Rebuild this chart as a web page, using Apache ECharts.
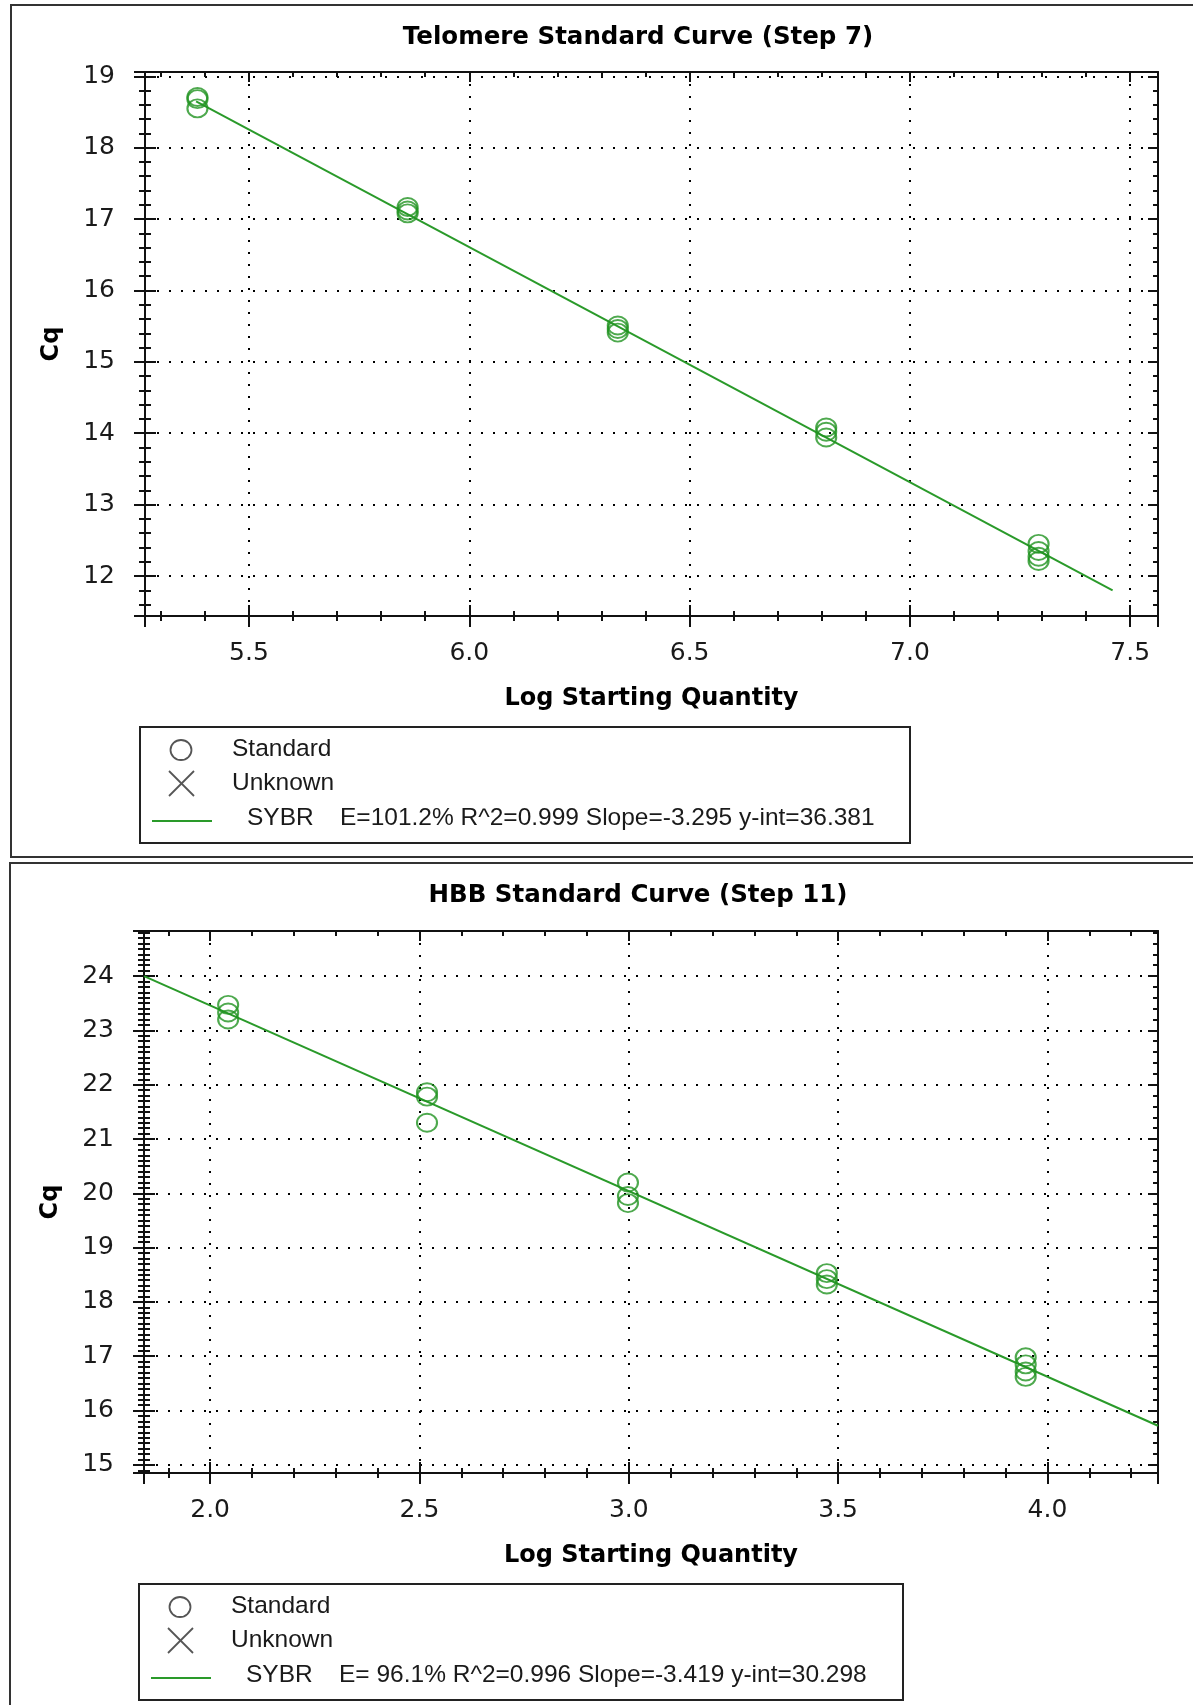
<!DOCTYPE html>
<html>
<head>
<meta charset="utf-8">
<script src="https://cdn.jsdelivr.net/npm/echarts@6/dist/echarts.min.js"></script>
<style>
html,body{margin:0;padding:0;background:#fff;}
#c{width:1193px;height:1705px;}
</style>
</head>
<body>
<div id="c"></div>
<script>
// ---------- data ----------
const titles = ['Telomere Standard Curve (Step 7)', 'HBB Standard Curve (Step 11)'];
const xAxisName = 'Log Starting Quantity';
const yAxisName = 'Cq';
const legendLabels = ['Standard', 'Unknown', 'SYBR'];
const legendStats = [
  'E=101.2% R^2=0.999 Slope=-3.295 y-int=36.381',
  'E= 96.1% R^2=0.996 Slope=-3.419 y-int=30.298'
];

// Telomere standards: log starting quantity and replicate Cq values
const teloLogQty = [5.383, 5.860, 6.337, 6.810, 7.292];
const teloCq = [
  [18.71, 18.68, 18.55],
  [17.17, 17.12, 17.08],
  [15.51, 15.46, 15.41],
  [14.08, 14.02, 13.94],
  [12.45, 12.35, 12.27, 12.21]
];
const teloFitX = [5.38, 7.46];
const teloFitCq = [18.65, 11.80];

// HBB standards
const hbbLogQty = [2.043, 2.518, 2.998, 3.473, 3.948];
const hbbCq = [
  [23.47, 23.33, 23.20],
  [21.86, 21.78, 21.30],
  [20.20, 19.95, 19.82],
  [18.53, 18.42, 18.32],
  [16.98, 16.85, 16.72, 16.62]
];
const hbbFitX = [1.842, 4.264];
const hbbFitCq = [24.00, 15.72];

// axis extents seen in the reference
const teloXExtent = [5.264, 7.563];
const teloYExtent = [11.44, 19.06];
const hbbXExtent = [1.842, 4.264];
const hbbYExtent = [14.85, 24.83];

// ---------- styling ----------
const GREEN = '#2a9a2a';
const DOT_GREEN = '#229322';
const INK = '#111';
const FONT = 'DejaVu Sans';
const LFONT = 'Liberation Sans';

function pairs(xs, groups) {
  const out = [];
  groups.forEach((g, i) => g.forEach(v => out.push([xs[i], v])));
  return out;
}
function line(xs, ys) { return xs.map((x, i) => [x, ys[i]]); }

function makeX(grid, ext) {
  const base = {type: 'value', gridIndex: grid, min: ext[0], max: ext[1], splitNumber: 5};
  const tickLs = {color: INK, width: 2};
  return [
    Object.assign({}, base, {
      position: 'bottom',
      name: xAxisName, nameLocation: 'middle', nameGap: 71,
      nameTextStyle: {fontFamily: FONT, fontWeight: 'bold', fontSize: 24, color: '#000'},
      axisLine: {show: true, onZero: false, lineStyle: {color: INK, width: 2}},
      axisTick: {show: true, inside: false, length: 11, lineStyle: tickLs},
      minorTick: {show: true, splitNumber: 5, length: 5, lineStyle: tickLs},
      axisLabel: {show: true, margin: 25, fontFamily: FONT, fontSize: 25, color: '#1a1a1a',
        showMinLabel: false, showMaxLabel: false, formatter: v => v.toFixed(1)},
      splitLine: {show: true, lineStyle: {color: '#000', width: 2, type: [2, 10]}}
    }),
    Object.assign({}, base, {
      position: 'bottom',
      axisLine: {show: false, onZero: false},
      axisTick: {show: true, inside: true, length: 11, lineStyle: tickLs},
      minorTick: {show: true, splitNumber: 5, length: 5, lineStyle: tickLs},
      axisLabel: {show: false}, splitLine: {show: false}
    }),
    Object.assign({}, base, {
      position: 'top',
      axisLine: {show: true, onZero: false, lineStyle: {color: INK, width: 2}},
      axisTick: {show: true, inside: true, length: 10, lineStyle: tickLs},
      minorTick: {show: true, splitNumber: 5, length: 5, lineStyle: tickLs},
      axisLabel: {show: false}, splitLine: {show: false}
    })
  ];
}

function makeY(grid, ext, splitN, minorLeft) {
  const base = {type: 'value', gridIndex: grid, min: ext[0], max: ext[1], splitNumber: splitN};
  const tickLs = {color: INK, width: 2};
  return [
    Object.assign({}, base, {
      position: 'left',
      name: yAxisName, nameLocation: 'middle', nameGap: 81,
      nameTextStyle: {fontFamily: FONT, fontWeight: 'bold', fontSize: 24, color: '#000'},
      axisLine: {show: true, onZero: false, lineStyle: {color: INK, width: 2}},
      axisTick: {show: true, inside: false, length: 11, lineStyle: tickLs},
      minorTick: {show: true, splitNumber: minorLeft, length: 6, lineStyle: tickLs},
      axisLabel: {show: true, margin: 30, fontFamily: FONT, fontSize: 25, color: '#1a1a1a',
        showMinLabel: false, showMaxLabel: false, formatter: v => String(Math.round(v))},
      splitLine: {show: true, lineStyle: {color: '#000', width: 2, type: [2, 10]}}
    }),
    Object.assign({}, base, {
      position: 'left',
      axisLine: {show: false, onZero: false},
      axisTick: {show: true, inside: true, length: 11, lineStyle: tickLs},
      minorTick: {show: true, splitNumber: minorLeft, length: 6, lineStyle: tickLs},
      axisLabel: {show: false}, splitLine: {show: false}
    }),
    Object.assign({}, base, {
      position: 'right',
      axisLine: {show: true, onZero: false, lineStyle: {color: INK, width: 2}},
      axisTick: {show: true, inside: true, length: 10, lineStyle: tickLs},
      minorTick: {show: true, splitNumber: 5, length: 5, lineStyle: tickLs},
      axisLabel: {show: false}, splitLine: {show: false}
    })
  ];
}

function legendGraphics(box, stats) {
  // box: [x, y, w, h]
  const [bx, by, bw, bh] = box;
  const r1 = by + 22, r2 = by + 56, r3 = by + 91;
  const txt = (x, y, t) => ({type: 'text', x: x, y: y, silent: true,
    style: {text: t, fontFamily: LFONT, fontSize: 24.5, fill: '#1a1a1a', align: 'left', verticalAlign: 'middle'}});
  return [
    {type: 'rect', shape: {x: bx, y: by, width: bw, height: bh}, silent: true,
     style: {fill: 'none', stroke: '#222', lineWidth: 2}},
    {type: 'ellipse', shape: {cx: bx + 41, cy: r1 + 1, rx: 10.5, ry: 10}, silent: true,
     style: {fill: 'none', stroke: '#555', lineWidth: 1.8}},
    txt(bx + 92, r1, legendLabels[0]),
    {type: 'line', shape: {x1: bx + 29, y1: r2 - 12, x2: bx + 54, y2: r2 + 13}, silent: true,
     style: {stroke: '#555', lineWidth: 1.8}},
    {type: 'line', shape: {x1: bx + 29, y1: r2 + 13, x2: bx + 54, y2: r2 - 12}, silent: true,
     style: {stroke: '#555', lineWidth: 1.8}},
    txt(bx + 92, r2, legendLabels[1]),
    {type: 'line', shape: {x1: bx + 12, y1: r3 + 3, x2: bx + 72, y2: r3 + 3}, silent: true,
     style: {stroke: GREEN, lineWidth: 2}},
    txt(bx + 107, r3, legendLabels[2]),
    txt(bx + 200, r3, stats)
  ];
}

const grids = [
  {left: 145, top: 72, width: 1013, height: 544},
  {left: 144, top: 931, width: 1014, height: 542}
];

const xAxes = makeX(0, teloXExtent).concat(makeX(1, hbbXExtent));
const yAxes = makeY(0, teloYExtent, 7, 5).concat(makeY(1, hbbYExtent, 10, 10));

const scatterStyle = {color: 'rgba(0,0,0,0)', borderColor: DOT_GREEN, borderWidth: 2};

const option = {
  animation: false,
  backgroundColor: '#fff',
  grid: grids,
  xAxis: xAxes,
  yAxis: yAxes,
  series: [
    {type: 'line', name: legendLabels[2], xAxisIndex: 0, yAxisIndex: 0, data: line(teloFitX, teloFitCq),
     symbol: 'none', lineStyle: {color: GREEN, width: 2}, z: 3},
    {type: 'scatter', name: legendLabels[0], xAxisIndex: 0, yAxisIndex: 0, data: pairs(teloLogQty, teloCq),
     symbol: 'circle', symbolSize: [20, 18], itemStyle: scatterStyle, z: 4},
    {type: 'line', name: legendLabels[2], xAxisIndex: 3, yAxisIndex: 3, data: line(hbbFitX, hbbFitCq),
     symbol: 'none', lineStyle: {color: GREEN, width: 2}, z: 3},
    {type: 'scatter', name: legendLabels[0], xAxisIndex: 3, yAxisIndex: 3, data: pairs(hbbLogQty, hbbCq),
     symbol: 'circle', symbolSize: [20, 18], itemStyle: scatterStyle, z: 4}
  ],
  graphic: [
    {type: 'rect', shape: {x: 11, y: 5, width: 1200, height: 852}, silent: true, z: -10,
     style: {fill: 'none', stroke: '#333', lineWidth: 2}},
    {type: 'rect', shape: {x: 10, y: 863, width: 1200, height: 900}, silent: true, z: -10,
     style: {fill: 'none', stroke: '#333', lineWidth: 2}},
    {type: 'text', x: 638, y: 38, silent: true,
     style: {text: titles[0], fontFamily: FONT, fontWeight: 'bold', fontSize: 24.5, fill: '#000', align: 'center', verticalAlign: 'middle'}},
    {type: 'text', x: 638, y: 896, silent: true,
     style: {text: titles[1], fontFamily: FONT, fontWeight: 'bold', fontSize: 24.5, fill: '#000', align: 'center', verticalAlign: 'middle'}}
  ].concat(legendGraphics([140, 727, 770, 116], legendStats[0]))
   .concat(legendGraphics([139, 1584, 764, 116], legendStats[1]))
};

const chart = echarts.init(document.getElementById('c'), null, {renderer: 'canvas'});
chart.setOption(option);
</script>
</body>
</html>
